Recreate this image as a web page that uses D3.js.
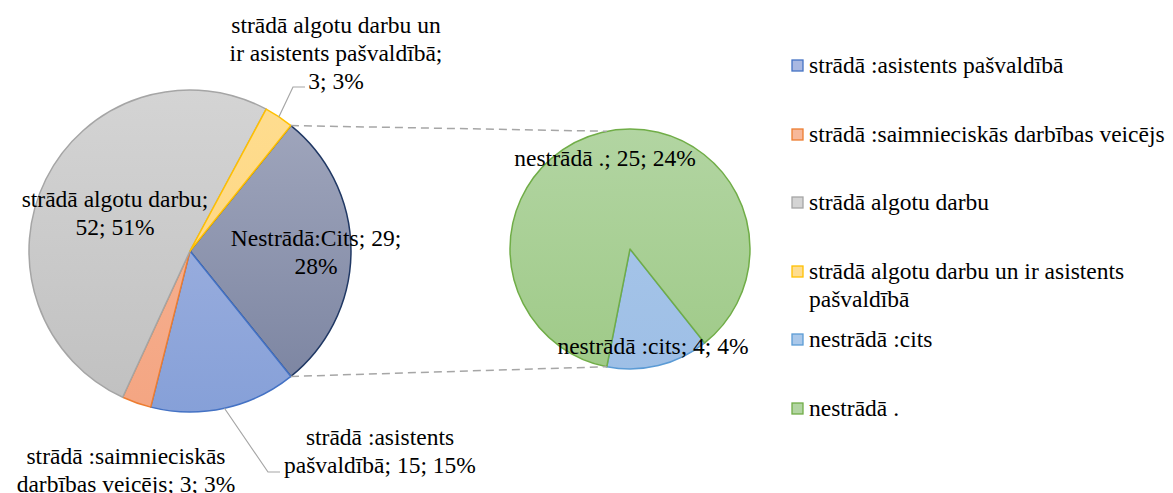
<!DOCTYPE html>
<html><head><meta charset="utf-8">
<script src="https://cdn.jsdelivr.net/npm/d3@7"></script>
<style>body{margin:0;background:#fff}svg{display:block}</style>
</head><body>
<script>
// ---- data ----
const mainCategories = ["Nestrādā:Cits", "strādā :asistents pašvaldībā", "strādā :saimnieciskās darbības veicējs", "strādā algotu darbu", "strādā algotu darbu un ir asistents pašvaldībā"];
const mainValues = [29, 15, 3, 52, 3];
const mainPercents = [28, 15, 3, 51, 3];
const secondCategories = ["nestrādā :cits", "nestrādā ."];
const secondValues = [4, 25];
const secondPercents = [4, 24];
const legendCategories = ["strādā :asistents pašvaldībā", "strādā :saimnieciskās darbības veicējs", "strādā algotu darbu", "strādā algotu darbu un ir asistents pašvaldībā", "nestrādā :cits", "nestrādā ."];

const W = 1173, H = 493;
const FONT = '"Liberation Serif"';
const svg = d3.select("body").append("svg").attr("width", W).attr("height", H);
const defs = svg.append("defs");

const styles = {
  "Nestrādā:Cits": {top: "#a3a9bf", bot: "#79829f", stroke: "#203864", sw: 1.5},
  "strādā :asistents pašvaldībā": {top: "#a9b8e2", bot: "#86a0d8", stroke: "#4472c4", sw: 1.5},
  "strādā :saimnieciskās darbības veicējs": {top: "#f7b89a", bot: "#f4a582", stroke: "#ed7d31", sw: 1.5},
  "strādā algotu darbu": {top: "#d4d4d4", bot: "#c0c0c0", stroke: "#a5a5a5", sw: 1.5},
  "strādā algotu darbu un ir asistents pašvaldībā": {top: "#fedd90", bot: "#ffd37a", stroke: "#ffc000", sw: 1.5},
  "nestrādā :cits": {top: "#aac8ea", bot: "#9ebfe6", stroke: "#5b9bd5", sw: 1.5},
  "nestrādā .": {top: "#b2d5a2", bot: "#9fca88", stroke: "#70ad47", sw: 1.5}
};

function grad(id, s, y1, y2) {
  const g = defs.append("linearGradient").attr("id", id).attr("gradientUnits", "userSpaceOnUse")
    .attr("x1", 0).attr("x2", 0).attr("y1", y1).attr("y2", y2);
  g.append("stop").attr("offset", "0%").attr("stop-color", s.top);
  g.append("stop").attr("offset", "100%").attr("stop-color", s.bot);
  return "url(#" + id + ")";
}

// ---- main pie ----
const c1 = {x: 190, y: 251}, r1 = 161;
const total1 = d3.sum(mainValues);
const span0 = mainValues[0] / total1 * 2 * Math.PI;
const pie1 = d3.pie().sort(null).value(d => d.v).startAngle(Math.PI / 2 - span0 / 2).endAngle(Math.PI / 2 - span0 / 2 + 2 * Math.PI);
const arcs1 = pie1(mainCategories.map((c, i) => ({c, v: mainValues[i], p: mainPercents[i]})));
const arc1 = d3.arc().innerRadius(0).outerRadius(r1);
const g1 = svg.append("g").attr("transform", `translate(${c1.x},${c1.y})`);
g1.selectAll("path").data(arcs1).join("path")
  .attr("d", arc1)
  .attr("fill", (d, i) => grad("g1_" + i, styles[d.data.c], -r1, r1))
  .attr("stroke", d => styles[d.data.c].stroke)
  .attr("stroke-width", d => styles[d.data.c].sw)
  .attr("stroke-linejoin", "round");

// ---- secondary pie ----
const c2 = {x: 630, y: 249}, r2 = 120;
const pie2 = d3.pie().sort(null).value(d => d.v).startAngle(141.5 * Math.PI / 180).endAngle(141.5 * Math.PI / 180 + 2 * Math.PI);
const arcs2 = pie2(secondCategories.map((c, i) => ({c, v: secondValues[i], p: secondPercents[i]})));
const arc2 = d3.arc().innerRadius(0).outerRadius(r2);
const g2 = svg.append("g").attr("transform", `translate(${c2.x},${c2.y})`);
g2.selectAll("path").data(arcs2).join("path")
  .attr("d", arc2)
  .attr("fill", (d, i) => grad("g2_" + i, styles[d.data.c], -r2, r2))
  .attr("stroke", d => styles[d.data.c].stroke)
  .attr("stroke-width", 1.5)
  .attr("stroke-linejoin", "round");

// ---- connector lines ----
function pt(c, r, a) { return [c.x + r * Math.sin(a), c.y - r * Math.cos(a)]; }
const a0 = arcs1[0].startAngle, a1 = arcs1[0].endAngle;
const bEnd = arcs2[0].endAngle;
const off = bEnd - Math.PI;
const conns = [
  [pt(c1, r1, a0), pt(c2, r2, 2 * Math.PI - off)],
  [pt(c1, r1, a1), pt(c2, r2, bEnd)]
];
svg.append("g").selectAll("line").data(conns).join("line")
  .attr("x1", d => d[0][0]).attr("y1", d => d[0][1])
  .attr("x2", d => d[1][0]).attr("y2", d => d[1][1])
  .attr("stroke", "#a6a6a6").attr("stroke-width", 1.5).attr("stroke-dasharray", "8,5");

// ---- leader lines ----
const leaders = [
  {i: 4, pts: [[293, 87], [305, 87]]},
  {i: 1, pts: [[268, 472], [280, 472]]}
];
leaders.forEach(l => {
  const a = arcs1[l.i];
  const m = pt(c1, r1, (a.startAngle + a.endAngle) / 2);
  svg.append("polyline").attr("points", [m, ...l.pts].map(p => p.join(",")).join(" "))
    .attr("fill", "none").attr("stroke", "#a6a6a6").attr("stroke-width", 1.2);
});

// ---- data labels ----
const FS = 23.5;
function label(lines, x, y) {
  const t = svg.append("text").attr("text-anchor", "middle").attr("font-size", FS).style("font-family", FONT).attr("fill", "#000");
  lines.forEach((s, k) => t.append("tspan").attr("x", x).attr("y", y + k * 28).text(s));
}
const d1 = arcs1.map(a => a.data);
label([d1[4].c.replace(" un ir asistents pašvaldībā", " un"), "ir asistents pašvaldībā;", `${d1[4].v}; ${d1[4].p}%`], 336, 33);
label([`${d1[3].c};`, `${d1[3].v}; ${d1[3].p}%`], 115, 207);
label([`${d1[0].c}; ${d1[0].v};`, `${d1[0].p}%`], 316, 246);
label([d1[1].c.replace(" pašvaldībā", ""), `pašvaldībā; ${d1[1].v}; ${d1[1].p}%`], 380, 445);
label([d1[2].c.replace(" darbības veicējs", ""), `darbības veicējs; ${d1[2].v}; ${d1[2].p}%`], 126, 464);
const d2 = arcs2.map(a => a.data);
label([`${d2[1].c}; ${d2[1].v}; ${d2[1].p}%`], 605, 166);
label([`${d2[0].c}; ${d2[0].v}; ${d2[0].p}%`], 653, 354);

// ---- legend ----
const legY = [66, 135, 203, 272, 340, 409];
const leg = svg.append("g");
legendCategories.forEach((c, i) => {
  const s = styles[c];
  leg.append("rect").attr("x", 792).attr("y", legY[i] - 6).attr("width", 11).attr("height", 11)
    .attr("fill", s.top).attr("stroke", s.stroke).attr("stroke-width", 1.3);
  const t = leg.append("text").attr("font-size", FS).style("font-family", FONT).attr("x", 809).attr("y", legY[i] + 7).attr("fill", "#000");
  if (c === "strādā algotu darbu un ir asistents pašvaldībā") {
    t.append("tspan").attr("x", 809).text("strādā algotu darbu un ir asistents");
    t.append("tspan").attr("x", 809).attr("dy", 28).text("pašvaldībā");
  } else t.text(c);
});
</script>
</body></html>
